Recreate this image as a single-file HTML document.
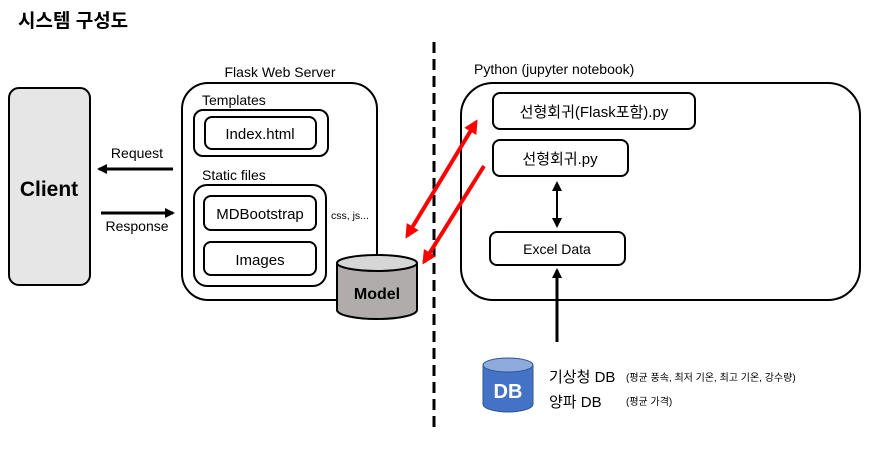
<!DOCTYPE html>
<html><head><meta charset="utf-8"><style>
html,body{margin:0;padding:0;background:#fff;}
svg{display:block;}
text{font-family:"Liberation Sans","Noto Sans CJK KR",sans-serif;fill:#000;}
</style></head><body>
<svg width="882" height="454" viewBox="0 0 882 454" xmlns="http://www.w3.org/2000/svg">
<defs>
<marker id="ah" markerWidth="10" markerHeight="10" refX="8" refY="5" orient="auto" markerUnits="userSpaceOnUse"><path d="M0,0 L10,5 L0,10 z" fill="#000"/></marker>
<marker id="rh" markerWidth="14" markerHeight="14" refX="11" refY="7" orient="auto-start-reverse" markerUnits="userSpaceOnUse"><path d="M0,0 L14,7 L0,14 z" fill="#f00"/></marker>
<marker id="bh" markerWidth="10" markerHeight="10" refX="8" refY="5" orient="auto-start-reverse" markerUnits="userSpaceOnUse"><path d="M0,0 L10,5 L0,10 z" fill="#000"/></marker>
</defs>
<text x="18" y="27" font-size="19" font-weight="bold">시스템 구성도</text>

<rect x="9" y="88" width="81" height="197" rx="10" fill="#e6e6e6" stroke="#000" stroke-width="2"/>
<text x="49" y="196" font-size="21" font-weight="bold" text-anchor="middle">Client</text>

<line x1="173" y1="169" x2="99" y2="169" stroke="#000" stroke-width="3" marker-end="url(#ah)"/>
<text x="137" y="158" font-size="14" text-anchor="middle">Request</text>
<line x1="101" y1="213" x2="173" y2="213" stroke="#000" stroke-width="3" marker-end="url(#ah)"/>
<text x="137" y="231" font-size="14" text-anchor="middle">Response</text>

<text x="280" y="77" font-size="14" text-anchor="middle">Flask Web Server</text>
<rect x="182" y="83" width="195" height="217" rx="26" fill="#fff" stroke="#000" stroke-width="2"/>
<text x="202" y="105" font-size="14">Templates</text>
<rect x="194" y="110" width="134" height="46" rx="9" fill="#fff" stroke="#000" stroke-width="2"/>
<rect x="205" y="117" width="111" height="32" rx="7" fill="#fff" stroke="#000" stroke-width="2"/>
<text x="260" y="139" font-size="15" text-anchor="middle">Index.html</text>
<text x="202" y="180" font-size="14">Static files</text>
<rect x="194" y="185" width="132" height="101" rx="13" fill="#fff" stroke="#000" stroke-width="2"/>
<rect x="204" y="196" width="112" height="34" rx="7" fill="#fff" stroke="#000" stroke-width="2"/>
<text x="260" y="219" font-size="15" text-anchor="middle">MDBootstrap</text>
<rect x="204" y="242" width="112" height="33" rx="7" fill="#fff" stroke="#000" stroke-width="2"/>
<text x="260" y="265" font-size="15" text-anchor="middle">Images</text>
<text x="331" y="219" font-size="10.5">css, js...</text>

<path d="M337,263 L337,310 A40,9 0 0 0 417,310 L417,263" fill="#b0acac" stroke="#000" stroke-width="2"/>
<ellipse cx="377" cy="263" rx="40" ry="8" fill="#d6d6d6" stroke="#000" stroke-width="2"/>
<text x="377" y="299" font-size="16" font-weight="bold" text-anchor="middle">Model</text>

<line x1="434" y1="42" x2="434" y2="432" stroke="#000" stroke-width="3" stroke-dasharray="11,6"/>

<text x="474" y="74" font-size="14">Python  (jupyter notebook)</text>
<rect x="461" y="83" width="399" height="217" rx="32" fill="#fff" stroke="#000" stroke-width="2"/>
<rect x="493" y="93" width="202" height="36" rx="7" fill="#fff" stroke="#000" stroke-width="2"/>
<text x="594" y="117" font-size="15" text-anchor="middle">선형회귀(Flask포함).py</text>
<rect x="493" y="140" width="135" height="36" rx="7" fill="#fff" stroke="#000" stroke-width="2"/>
<text x="560" y="164" font-size="15" text-anchor="middle">선형회귀.py</text>
<rect x="490" y="232" width="135" height="33" rx="7" fill="#fff" stroke="#000" stroke-width="2"/>
<text x="557" y="254" font-size="14" text-anchor="middle">Excel Data</text>
<line x1="557" y1="183" x2="557" y2="226" stroke="#000" stroke-width="2" marker-start="url(#bh)" marker-end="url(#bh)"/>
<line x1="557" y1="342" x2="557" y2="270" stroke="#000" stroke-width="3" marker-end="url(#ah)"/>

<line x1="476" y1="122" x2="407" y2="236" stroke="#f00" stroke-width="4" marker-start="url(#rh)" marker-end="url(#rh)"/>
<line x1="484" y1="166" x2="424" y2="262" stroke="#f00" stroke-width="4" marker-end="url(#rh)"/>

<path d="M483,365 L483,404 A25,8 0 0 0 533,404 L533,365" fill="#4472c4" stroke="#2f5597" stroke-width="1"/>
<ellipse cx="508" cy="365" rx="25" ry="7" fill="#8faadc" stroke="#2f5597" stroke-width="1"/>
<text x="508" y="398" font-size="20" font-weight="bold" text-anchor="middle" style="fill:#fff">DB</text>
<text x="549" y="382" font-size="15">기상청 DB</text>
<text x="626" y="381" font-size="10">(평균 풍속, 최저 기온, 최고 기온, 강수량)</text>
<text x="549" y="407" font-size="15">양파 DB</text>
<text x="626" y="405" font-size="10">(평균 가격)</text>
</svg>
</body></html>
